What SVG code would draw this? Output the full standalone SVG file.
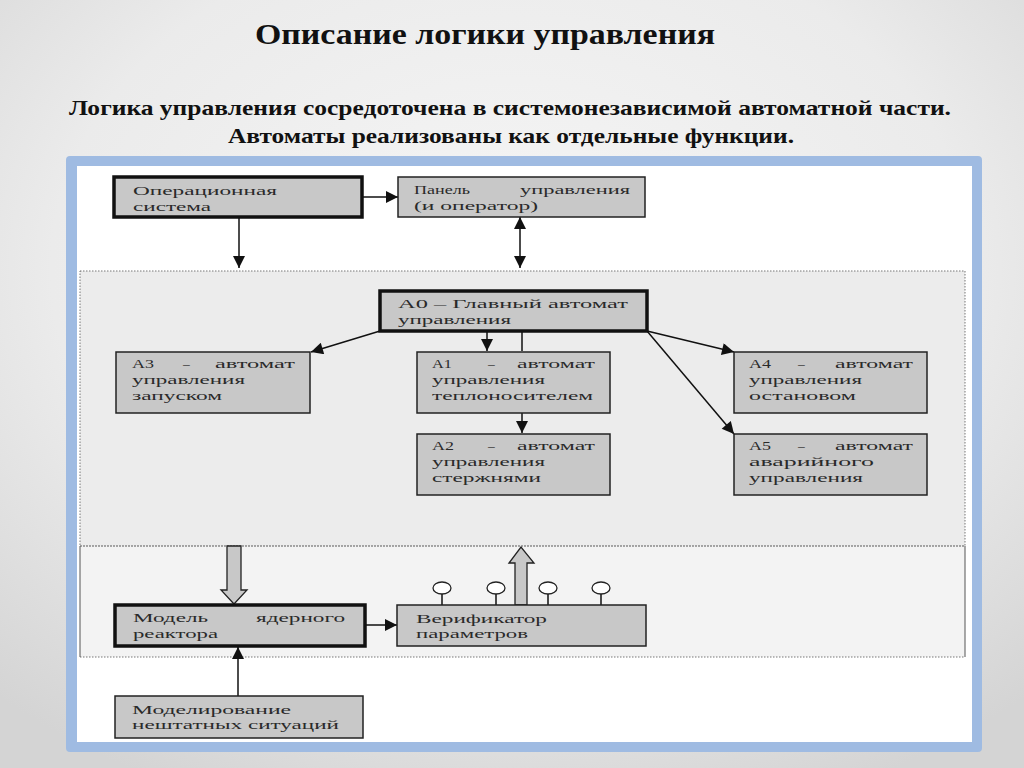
<svg xmlns="http://www.w3.org/2000/svg" width="1024" height="768" viewBox="0 0 1024 768">
<defs>
<radialGradient id="bg" cx="0.5" cy="0.35" r="0.75">
<stop offset="0" stop-color="#f6f6f6"/>
<stop offset="0.6" stop-color="#ebebeb"/>
<stop offset="1" stop-color="#d4d4d4"/>
</radialGradient>
<marker id="ah2" viewBox="0 0 10 10" refX="10" refY="5" markerWidth="14" markerHeight="12" markerUnits="userSpaceOnUse" orient="auto-start-reverse">
<path d="M0,0 L10,5 L0,10 Z" fill="#111"/>
</marker>
</defs>
<style>
.title{font-family:"Liberation Serif","Times New Roman",serif;font-weight:bold;fill:#111}
.box{fill:#c8c8c8;stroke:#222;stroke-width:1.5}
.thick{fill:#c8c8c8;stroke:#111;stroke-width:3.5}
.t{font-family:"Liberation Serif","Times New Roman",serif;font-size:13.5px;fill:#2a2a2a}
.con{stroke:#111;stroke-width:1.5;fill:none}
.dot{fill:none;stroke:#777;stroke-width:1;stroke-dasharray:1.5 1.5}
.block{fill:#c8c8c8;stroke:#222;stroke-width:1.3}
.lol{fill:#fff;stroke:#222;stroke-width:1.3}
</style>
<rect width="1024" height="768" fill="url(#bg)"/>
<text class="title" x="255" y="44" font-size="29" textLength="460" lengthAdjust="spacingAndGlyphs">Описание логики управления</text>
<text class="title" x="69" y="115" font-size="22" textLength="882" lengthAdjust="spacingAndGlyphs">Логика управления сосредоточена в системонезависимой автоматной части.</text>
<text class="title" x="228" y="143" font-size="22" textLength="566" lengthAdjust="spacingAndGlyphs">Автоматы реализованы как отдельные функции.</text>

<g id="frame">
<rect x="66" y="156" width="916" height="596" rx="4" fill="#9fbbe2"/>
<rect x="77" y="166" width="895" height="576" fill="#ffffff"/>
<rect x="80" y="271" width="885" height="275" fill="#ececec"/>
<rect x="80" y="546" width="885" height="111" fill="#f3f3f3"/>
<rect class="dot" x="80" y="271" width="885" height="275"/>
<line class="dot" x1="80" y1="546" x2="965" y2="546"/>
<line class="dot" x1="80" y1="657" x2="965" y2="657"/>
<line x1="80" y1="546" x2="80" y2="657" stroke="#555" stroke-width="1"/>
<line x1="965" y1="546" x2="965" y2="657" stroke="#555" stroke-width="1"/>
</g>

<g id="connectors">
<line class="con" x1="362" y1="197" x2="398" y2="197" marker-end="url(#ah2)"/>
<line class="con" x1="239" y1="217" x2="239" y2="268" marker-end="url(#ah2)"/>
<line class="con" x1="520" y1="217" x2="520" y2="268" marker-start="url(#ah2)" marker-end="url(#ah2)"/>
<line class="con" x1="380" y1="331" x2="311" y2="352" marker-end="url(#ah2)"/>
<line class="con" x1="487" y1="331" x2="487" y2="351" marker-end="url(#ah2)"/>
<line class="con" x1="522" y1="331" x2="522" y2="351"/>
<line class="con" x1="522" y1="413" x2="522" y2="433" marker-end="url(#ah2)"/>
<line class="con" x1="647" y1="331" x2="734" y2="352" marker-end="url(#ah2)"/>
<line class="con" x1="647" y1="331" x2="734" y2="434" marker-end="url(#ah2)"/>
<line class="con" x1="365" y1="625" x2="397" y2="625" marker-end="url(#ah2)"/>
<line class="con" x1="238" y1="696" x2="238" y2="647" marker-end="url(#ah2)"/>
<path class="block" d="M227,546 L241,546 L241,590 L247,590 L234,604 L221,590 L227,590 Z"/>
<path class="block" d="M515,605 L515,563 L509,563 L521,547 L534,563 L527,563 L527,605 Z"/>
</g>

<g id="node-os">
<rect class="thick" x="114" y="177" width="248" height="40"/>
<text class="t" x="133" y="195" textLength="144" lengthAdjust="spacingAndGlyphs">Операционная</text>
<text class="t" x="133" y="211" textLength="78" lengthAdjust="spacingAndGlyphs">система</text>
</g>
<g id="node-panel">
<rect class="box" x="398" y="177" width="247" height="40"/>
<text class="t" x="414" y="194" textLength="56" lengthAdjust="spacingAndGlyphs">Панель</text>
<text class="t" x="520" y="194" textLength="110" lengthAdjust="spacingAndGlyphs">управления</text>
<text class="t" x="414" y="210" textLength="124" lengthAdjust="spacingAndGlyphs">(и оператор)</text>
</g>
<g id="node-a0">
<rect class="thick" x="380" y="291" width="267" height="40"/>
<text class="t" x="398" y="308" textLength="230" lengthAdjust="spacingAndGlyphs">A0 – Главный автомат</text>
<text class="t" x="398" y="324" textLength="113" lengthAdjust="spacingAndGlyphs">управления</text>
</g>
<g id="node-a3">
<rect class="box" x="116" y="352" width="194" height="61"/>
<text class="t" x="132" y="368" textLength="22" lengthAdjust="spacingAndGlyphs">A3</text>
<text class="t" x="183" y="368">–</text>
<text class="t" x="215" y="368" textLength="80" lengthAdjust="spacingAndGlyphs">автомат</text>
<text class="t" x="132" y="384" textLength="113" lengthAdjust="spacingAndGlyphs">управления</text>
<text class="t" x="132" y="400" textLength="90" lengthAdjust="spacingAndGlyphs">запуском</text>
</g>
<g id="node-a1">
<rect class="box" x="417" y="352" width="193" height="61"/>
<text class="t" x="432" y="368" textLength="20" lengthAdjust="spacingAndGlyphs">A1</text>
<text class="t" x="488" y="368">–</text>
<text class="t" x="517" y="368" textLength="78" lengthAdjust="spacingAndGlyphs">автомат</text>
<text class="t" x="432" y="384" textLength="113" lengthAdjust="spacingAndGlyphs">управления</text>
<text class="t" x="432" y="400" textLength="161" lengthAdjust="spacingAndGlyphs">теплоносителем</text>
</g>
<g id="node-a2">
<rect class="box" x="417" y="434" width="193" height="61"/>
<text class="t" x="432" y="450" textLength="22" lengthAdjust="spacingAndGlyphs">A2</text>
<text class="t" x="488" y="450">–</text>
<text class="t" x="517" y="450" textLength="78" lengthAdjust="spacingAndGlyphs">автомат</text>
<text class="t" x="432" y="466" textLength="113" lengthAdjust="spacingAndGlyphs">управления</text>
<text class="t" x="432" y="482" textLength="109" lengthAdjust="spacingAndGlyphs">стержнями</text>
</g>
<g id="node-a4">
<rect class="box" x="734" y="352" width="193" height="61"/>
<text class="t" x="749" y="368" textLength="22" lengthAdjust="spacingAndGlyphs">A4</text>
<text class="t" x="798" y="368">–</text>
<text class="t" x="835" y="368" textLength="78" lengthAdjust="spacingAndGlyphs">автомат</text>
<text class="t" x="749" y="384" textLength="113" lengthAdjust="spacingAndGlyphs">управления</text>
<text class="t" x="749" y="400" textLength="107" lengthAdjust="spacingAndGlyphs">остановом</text>
</g>
<g id="node-a5">
<rect class="box" x="734" y="434" width="193" height="61"/>
<text class="t" x="749" y="450" textLength="22" lengthAdjust="spacingAndGlyphs">A5</text>
<text class="t" x="798" y="450">–</text>
<text class="t" x="835" y="450" textLength="78" lengthAdjust="spacingAndGlyphs">автомат</text>
<text class="t" x="749" y="466" textLength="125" lengthAdjust="spacingAndGlyphs">аварийного</text>
<text class="t" x="749" y="482" textLength="114" lengthAdjust="spacingAndGlyphs">управления</text>
</g>
<g id="node-model">
<rect class="thick" x="115" y="605" width="250" height="41"/>
<text class="t" x="133" y="622" textLength="75" lengthAdjust="spacingAndGlyphs">Модель</text>
<text class="t" x="256" y="622" textLength="89" lengthAdjust="spacingAndGlyphs">ядерного</text>
<text class="t" x="133" y="638" textLength="85" lengthAdjust="spacingAndGlyphs">реактора</text>
</g>
<g id="node-verifier">
<line class="con" x1="442" y1="594" x2="442" y2="605"/>
<line class="con" x1="496" y1="594" x2="496" y2="605"/>
<line class="con" x1="548" y1="594" x2="548" y2="605"/>
<line class="con" x1="601" y1="594" x2="601" y2="605"/>
<ellipse class="lol" cx="442" cy="588" rx="9" ry="6"/>
<ellipse class="lol" cx="496" cy="588" rx="9" ry="6"/>
<ellipse class="lol" cx="548" cy="588" rx="9" ry="6"/>
<ellipse class="lol" cx="601" cy="588" rx="9" ry="6"/>
<rect class="box" x="397" y="605" width="249" height="41"/>
<text class="t" x="416" y="623" textLength="131" lengthAdjust="spacingAndGlyphs">Верификатор</text>
<text class="t" x="416" y="638" textLength="112" lengthAdjust="spacingAndGlyphs">параметров</text>
</g>
<g id="node-sim">
<rect class="box" x="115" y="696" width="248" height="42"/>
<text class="t" x="132" y="714" textLength="159" lengthAdjust="spacingAndGlyphs">Моделирование</text>
<text class="t" x="132" y="729" textLength="207" lengthAdjust="spacingAndGlyphs">нештатных ситуаций</text>
</g>
</svg>
